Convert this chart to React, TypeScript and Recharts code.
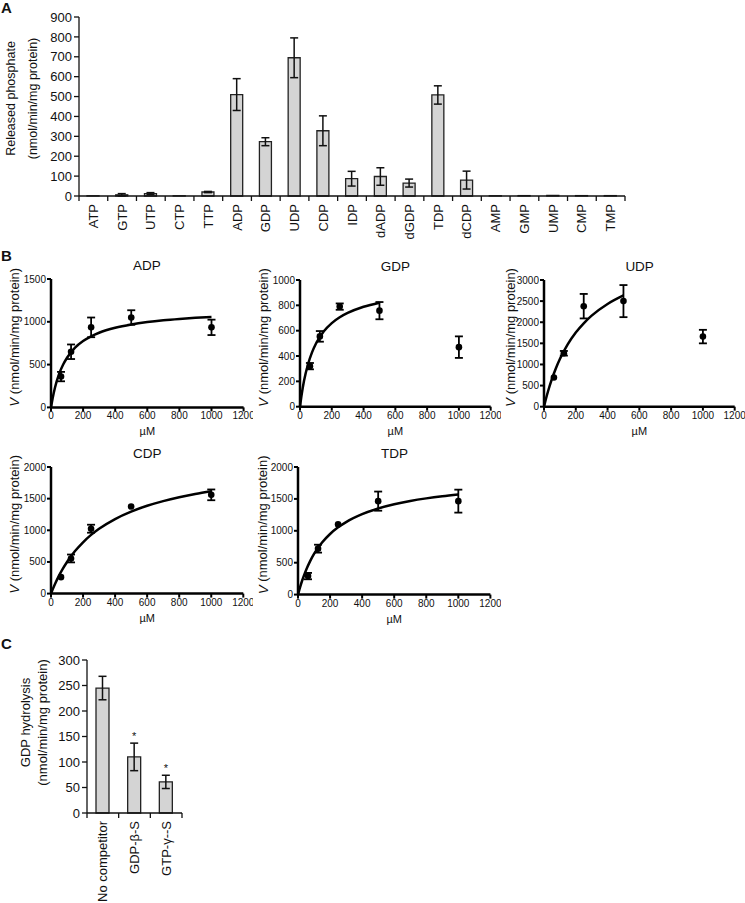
import React from 'react';
import {
  BarChart, Bar, XAxis, YAxis, ErrorBar, ComposedChart, Line, Scatter, LabelList,
} from 'recharts';

const FONT = '"Liberation Sans", Arial, Helvetica, sans-serif';

// Panel A - nucleotide substrate screen
const nucleotides = ['ATP', 'GTP', 'UTP', 'CTP', 'TTP', 'ADP', 'GDP', 'UDP', 'CDP', 'IDP', 'dADP', 'dGDP', 'TDP', 'dCDP', 'AMP', 'GMP', 'UMP', 'CMP', 'TMP'];
const releasedPi = [1, 6, 12, 1, 20, 510, 273, 695, 328, 87, 98, 65, 508, 80, 1, 2, 3, 2, 2];
const releasedPiErr = [0, 6, 5, 0, 3, 80, 20, 100, 75, 37, 44, 20, 46, 45, 0, 0, 0, 0, 0];
const releasedTicks = [0, 100, 200, 300, 400, 500, 600, 700, 800, 900];

// Panel B - kinetics
const concentrations = [62.5, 125, 250, 500, 1000];
const concTicks = [0, 200, 400, 600, 800, 1000, 1200];
const fitConcFull = [0, 10, 25, 50, 75, 100, 150, 200, 250, 300, 400, 500, 600, 700, 800, 900, 1000];
const fitConcHalf = [0, 10, 25, 50, 75, 100, 150, 200, 250, 300, 400, 500];

const adpV = [360, 650, 935, 1050, 935];
const adpErr = [55, 85, 115, 85, 90];
const adpFit = [0, 105, 233, 388, 498, 580, 698, 775, 830, 872, 930, 969, 997, 1018, 1034, 1047, 1057];

const gdpV = [320, 555, 790, 758, 470];
const gdpErr = [25, 42, 25, 68, 85];
const gdpFit = [0, 91, 202, 333, 427, 497, 595, 660, 706, 740, 789, 821];

const udpV = [690, 1265, 2380, 2500, 1660];
const udpErr = [0, 55, 290, 380, 160];
const udpFit = [0, 152, 359, 658, 912, 1129, 1481, 1756, 1975, 2155, 2431, 2633];

const cdpV = [260, 555, 1025, 1375, 1560];
const cdpErr = [0, 62, 63, 0, 85];
const cdpFit = [0, 63, 151, 283, 398, 500, 672, 811, 927, 1024, 1178, 1295, 1387, 1461, 1522, 1573, 1617];

const tdpV = [290, 720, 1100, 1465, 1465];
const tdpErr = [50, 62, 0, 150, 180];
const tdpFit = [0, 91, 213, 383, 521, 637, 816, 950, 1054, 1137, 1261, 1350, 1416, 1467, 1508, 1542, 1570];

// Panel C - competition
const competitors = ['No competitor', 'GDP-β-S', 'GTP-γ--S'];
const gdpHydrolysis = [245, 110, 61];
const gdpHydrolysisErr = [23, 27, 13];
const significant = ['', '*', '*'];
const hydrolysisTicks = [0, 50, 100, 150, 200, 250, 300];

const dataA = nucleotides.map((name, i) => ({ name, value: releasedPi[i], err: releasedPiErr[i] }));
const dataC = competitors.map((name, i) => ({
  name, value: gdpHydrolysis[i], err: gdpHydrolysisErr[i], sig: significant[i],
}));

// category tick: boundary tick marks + rotated label
const BandTick = (props: any) => {
  const { x, y, payload, index, half, count, fontSize } = props;
  return (
    <g>
      <line x1={x - half} y1={y} x2={x - half} y2={y + 5} stroke="#111" strokeWidth={1.3} />
      {index === count - 1 && (
        <line x1={x + half} y1={y} x2={x + half} y2={y + 5} stroke="#111" strokeWidth={1.3} />
      )}
      <text
        transform={`translate(${x},${y + 8}) rotate(-90)`}
        textAnchor="end"
        dominantBaseline="central"
        fontSize={fontSize}
        fontFamily={FONT}
        fill="#111"
      >
        {payload.value}
      </text>
    </g>
  );
};

const twoLineLabel = (lines: string[], xs: number[], dy: number, fontSize: number) => (props: any) => {
  const vb = props.viewBox;
  const cy = vb.y + vb.height / 2 + dy;
  return (
    <g>
      {lines.map((l, i) => (
        <text
          key={l}
          transform={`translate(${vb.x + xs[i]},${cy}) rotate(-90)`}
          textAnchor="middle"
          dominantBaseline="central"
          fontSize={fontSize}
          fontFamily={FONT}
          fill="#111"
        >
          {l}
        </text>
      ))}
    </g>
  );
};

const Asterisk = (props: any) => {
  const { x, y, width, height, index, value } = props;
  if (!value) return null;
  const top = y - gdpHydrolysisErr[index] * height / gdpHydrolysis[index];
  return (
    <text x={x + width / 2} y={top - 3} textAnchor="middle" fontSize={11} fontFamily={FONT} fill="#111">
      {value}
    </text>
  );
};

const Dot = (p: any) => <circle cx={p.cx} cy={p.cy} r={3.3} fill="#000" />;

interface KineticsProps {
  title: string;
  v: number[];
  err: number[];
  fitX: number[];
  fitY: number[];
  yTicks: number[];
  x0: number; x1: number; y0: number; y1: number;
  labelDx: number;
}

const KineticsPanel = ({ title, v, err, fitX, fitY, yTicks, x0, x1, y0, y1, labelDx }: KineticsProps) => {
  const ml = 50, mt = 26, mr = 10, xh = 40;
  const width = x1 - x0 + ml + mr;
  const height = y0 - y1 + mt + xh;
  const pts = concentrations.map((x, i) => ({ x, v: v[i], e: err[i] }));
  const fit = fitX.map((x, i) => ({ x, fit: fitY[i] }));
  const axisStyle = { stroke: '#000', strokeWidth: 2.5 };
  const tickStyle = { stroke: '#000', strokeWidth: 2 };
  return (
    <>
      <div style={{
        position: 'absolute', left: x0, width: x1 - x0, top: y1 - 20, textAlign: 'center',
        fontSize: 13.5, lineHeight: '14px', color: '#111',
      }}>
        {title}
      </div>
      <div style={{ position: 'absolute', left: x0 - ml, top: y1 - mt }}>
        <ComposedChart width={width} height={height} margin={{ top: mt, right: mr, left: 0, bottom: 0 }} style={{ overflow: 'visible' }}>
          <XAxis
            type="number"
            dataKey="x"
            domain={[0, 1200]}
            ticks={concTicks}
            interval={0}
            height={xh}
            axisLine={axisStyle}
            tickLine={tickStyle}
            tickSize={4}
            tickMargin={1}
            tick={{ fontSize: 10, fill: '#111', fontFamily: FONT }}
            label={(p: any) => (
              <text x={p.viewBox.x + p.viewBox.width / 2} y={p.viewBox.y + 28} textAnchor="middle"
                fontSize={11} fontFamily={FONT} fill="#111">µM</text>
            )}
          />
          <YAxis
            type="number"
            domain={[0, yTicks[yTicks.length - 1]]}
            ticks={yTicks}
            interval={0}
            width={ml}
            axisLine={axisStyle}
            tickLine={tickStyle}
            tickSize={4}
            tickMargin={1}
            tick={{ fontSize: 10, fill: '#111', fontFamily: FONT }}
            label={(p: any) => {
              const vb = p.viewBox;
              return (
                <text
                  transform={`translate(${vb.x + labelDx},${vb.y + vb.height / 2 - 6}) rotate(-90)`}
                  textAnchor="middle" dominantBaseline="central" fontSize={13} fontFamily={FONT} fill="#111"
                >
                  <tspan fontStyle="italic">V</tspan>{' (nmol/min/mg protein)'}
                </text>
              );
            }}
          />
          <Line data={fit} dataKey="fit" type="monotone" dot={false} stroke="#000" strokeWidth={2.5} isAnimationActive={false} />
          <Scatter data={pts} dataKey="v" shape={Dot} isAnimationActive={false}>
            <ErrorBar dataKey="e" direction="y" width={4} stroke="#000" strokeWidth={1.8} />
          </Scatter>
        </ComposedChart>
      </div>
    </>
  );
};

const letter = (ch: string, top: number) => (
  <div style={{ position: 'absolute', left: 1, top, fontSize: 15, fontWeight: 'bold', lineHeight: '15px' }}>{ch}</div>
);

export default function App() {
  return (
    <div style={{ position: 'absolute', left: 0, top: 0, width: 745, height: 903, background: '#fff', fontFamily: FONT, color: '#111' }}>
      {letter('A', 0)}
      <div style={{ position: 'absolute', left: 0, top: 0 }}>
        <BarChart width={640} height={241} data={dataA} margin={{ top: 17, right: 15, left: 0, bottom: 0 }}>
          <XAxis
            dataKey="name"
            interval={0}
            height={45}
            tickSize={0}
            tickMargin={0}
            axisLine={{ stroke: '#111', strokeWidth: 1.3 }}
            tick={<BandTick half={546 / 19 / 2} count={nucleotides.length} fontSize={13} />}
          />
          <YAxis
            domain={[0, 900]}
            ticks={releasedTicks}
            interval={0}
            width={79}
            tickSize={5}
            axisLine={{ stroke: '#111', strokeWidth: 1.3 }}
            tickLine={{ stroke: '#111', strokeWidth: 1.3 }}
            tick={{ fontSize: 13, fill: '#111', fontFamily: FONT }}
            label={twoLineLabel(['Released phosphate', '(nmol/min/mg protein)'], [11, 33], -8, 12.5)}
          />
          <Bar dataKey="value" barSize={12} fill="#d4d4d4" stroke="#222" strokeWidth={1.3} isAnimationActive={false}>
            <ErrorBar dataKey="err" direction="y" width={4} stroke="#111" strokeWidth={1.5} />
          </Bar>
        </BarChart>
      </div>

      {letter('B', 248)}
      <KineticsPanel title="ADP" v={adpV} err={adpErr} fitX={fitConcFull} fitY={adpFit}
        yTicks={[0, 500, 1000, 1500]} x0={50.7} x1={243.3} y0={407.7} y1={279.3} labelDx={13} />
      <KineticsPanel title="GDP" v={gdpV} err={gdpErr} fitX={fitConcHalf} fitY={gdpFit}
        yTicks={[0, 200, 400, 600, 800, 1000]} x0={300} x1={490.7} y0={406.7} y1={280} labelDx={13} />
      <KineticsPanel title="UDP" v={udpV} err={udpErr} fitX={fitConcHalf} fitY={udpFit}
        yTicks={[0, 500, 1000, 1500, 2000, 2500, 3000]} x0={544.3} x1={735} y0={406.7} y1={280} labelDx={16} />
      <KineticsPanel title="CDP" v={cdpV} err={cdpErr} fitX={fitConcFull} fitY={cdpFit}
        yTicks={[0, 500, 1000, 1500, 2000]} x0={51} x1={243.3} y0={593.3} y1={466.7} labelDx={13} />
      <KineticsPanel title="TDP" v={tdpV} err={tdpErr} fitX={fitConcFull} fitY={tdpFit}
        yTicks={[0, 500, 1000, 1500, 2000]} x0={298.3} x1={490.7} y0={594.3} y1={466.7} labelDx={15} />

      {letter('C', 636)}
      <div style={{ position: 'absolute', left: 0, top: 640 }}>
        <BarChart width={187} height={263} data={dataC} margin={{ top: 20, right: 5, left: 0, bottom: 0 }}>
          <XAxis
            dataKey="name"
            interval={0}
            height={90}
            tickSize={0}
            tickMargin={0}
            axisLine={{ stroke: '#111', strokeWidth: 1.3 }}
            tick={<BandTick half={95 / 3 / 2} count={competitors.length} fontSize={13} />}
          />
          <YAxis
            domain={[0, 300]}
            ticks={hydrolysisTicks}
            interval={0}
            width={87}
            tickSize={5}
            axisLine={{ stroke: '#111', strokeWidth: 1.3 }}
            tickLine={{ stroke: '#111', strokeWidth: 1.3 }}
            tick={{ fontSize: 13, fill: '#111', fontFamily: FONT }}
            label={twoLineLabel(['GDP hydrolysis', '(nmol/min/mg protein)'], [25, 42], -14, 13)}
          />
          <Bar dataKey="value" barSize={13} fill="#d4d4d4" stroke="#222" strokeWidth={1.3} isAnimationActive={false}>
            <ErrorBar dataKey="err" direction="y" width={4} stroke="#111" strokeWidth={1.5} />
            <LabelList dataKey="sig" content={Asterisk} />
          </Bar>
        </BarChart>
      </div>
    </div>
  );
}
